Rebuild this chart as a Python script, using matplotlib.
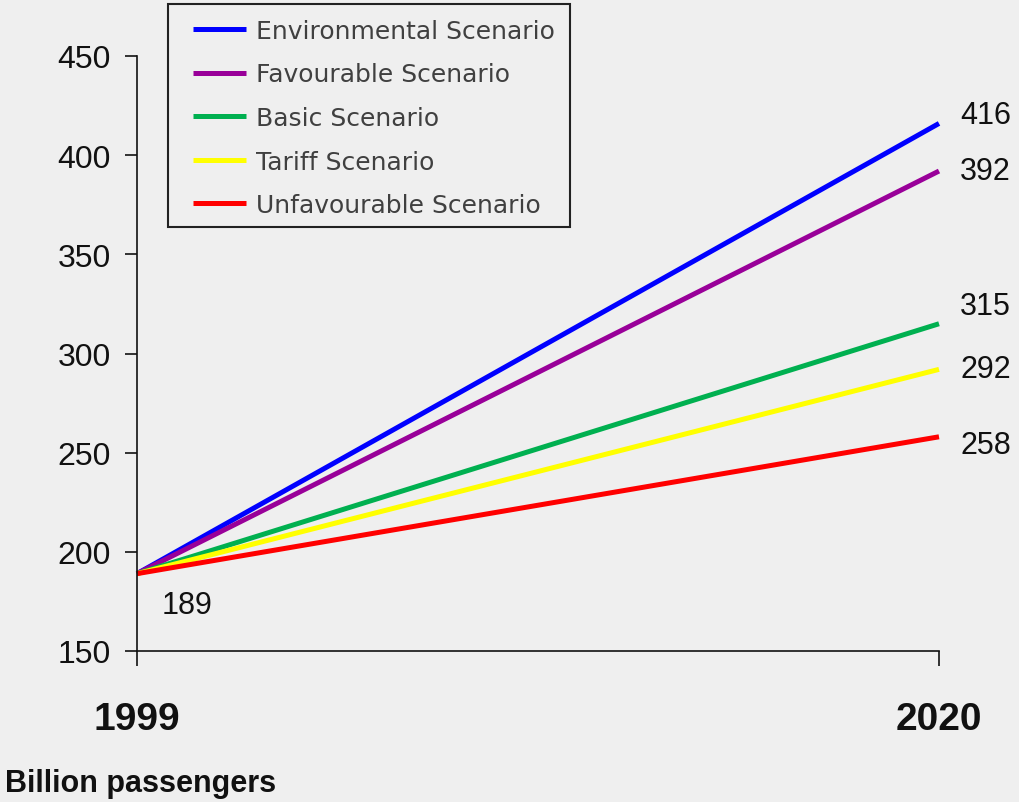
import matplotlib
matplotlib.use("Agg")
import matplotlib.pyplot as plt
from matplotlib.patches import Rectangle

# data
years = [1999, 2020]
scenarios = ["Environmental Scenario", "Favourable Scenario", "Basic Scenario",
             "Tariff Scenario", "Unfavourable Scenario"]
start_value = 189
end_values = [416, 392, 315, 292, 258]
colors = ["#0000ff", "#990099", "#00b050", "#ffff00", "#ff0000"]
# label heights are nudged a bit apart in the original
label_y = [420, 392, 324, 292, 254]

bg = "#efefef"
fig = plt.figure(figsize=(10.19, 8.03), dpi=100, facecolor=bg)
ax = fig.add_axes([137 / 1019, 1 - 652 / 803, (939 - 137) / 1019, (652 - 57) / 803])
ax.set_facecolor(bg)

for name, end, col in zip(scenarios, end_values, colors):
    ax.plot(years, [start_value, end], color=col, lw=3.6, label=name,
            solid_capstyle="butt", clip_on=False)

for end, y in zip(end_values, label_y):
    ax.text(2020.55, y, str(end), fontsize=22, va="center", ha="left",
            color="#111111", family="Liberation Sans")
ax.text(1999.65, 173, str(start_value), fontsize=22, va="center", ha="left",
        color="#111111", family="Liberation Sans")

ax.set_xlim(1999, 2020)
ax.set_ylim(150, 450)
ax.set_yticks([150, 200, 250, 300, 350, 400, 450])
ax.set_xticks(years)
ax.set_xticklabels([str(y) for y in years], fontsize=28, fontweight="bold",
                   family="Liberation Sans")
for lab in ax.get_yticklabels():
    lab.set_fontsize(23)
    lab.set_family("Liberation Sans")
ax.tick_params(axis="y", direction="out", length=9, width=1.2, pad=10, colors="#111111")
ax.tick_params(axis="x", direction="out", length=11, width=1.2, pad=25, colors="#111111")

for s in ["top", "right"]:
    ax.spines[s].set_visible(False)
for s in ["left", "bottom"]:
    ax.spines[s].set_linewidth(1.2)
    ax.spines[s].set_color("#111111")

# legend without its own frame; the box is drawn separately so the
# handles can sit further in from the border, as in the original
leg = ax.legend(loc="upper left", bbox_to_anchor=(193 / 1019, 1 - 20 / 803),
                bbox_transform=fig.transFigure, frameon=False,
                prop={"size": 18}, handlelength=2.1, handletextpad=0.4,
                labelspacing=0.78, borderpad=0, borderaxespad=0)
for t in leg.get_texts():
    t.set_color("#404040")
fig.patches.append(Rectangle((168 / 1019, 1 - 228 / 803), 402 / 1019, 223 / 803,
                             transform=fig.transFigure, fill=False,
                             edgecolor="#222222", linewidth=1.5))

fig.text(5 / 1019, 1 - 784 / 803, "Billion passengers", fontsize=22, fontweight="bold",
         family="Liberation Sans", va="center", ha="left", color="#111111")

fig.savefig("out.png", dpi=100, facecolor=bg)
